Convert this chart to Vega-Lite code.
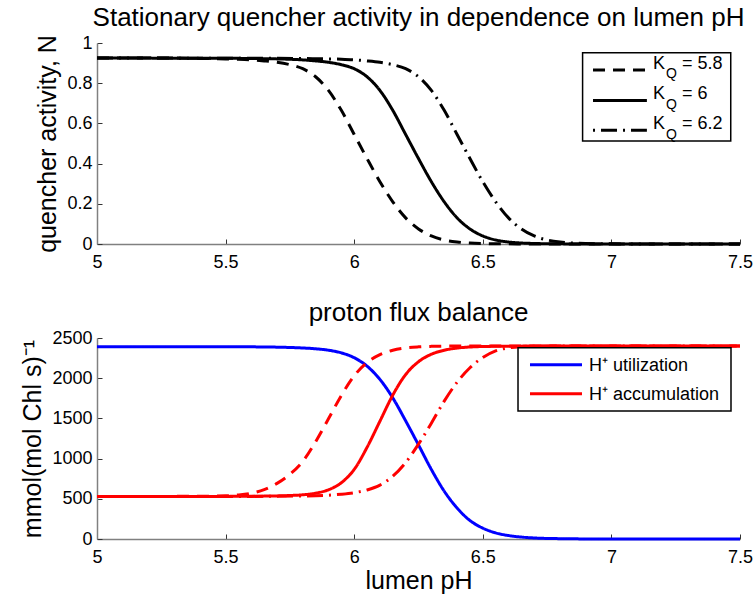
{
  "$schema": "https://vega.github.io/schema/vega-lite/v6.json",
  "background": "white",
  "padding": {"left": 20, "top": 5, "right": 5, "bottom": 5},
  "spacing": 29,
  "config": {
    "font": "Liberation Sans",
    "view": {"stroke": null},
    "axis": {
      "grid": false,
      "domainColor": "#808080",
      "domainWidth": 1.5,
      "tickColor": "#333333",
      "tickSize": -5,
      "labelPadding": 10,
      "labelFontSize": 18,
      "labelColor": "black",
      "labelFont": "Liberation Sans",
      "labelFlush": false,
      "labelOverlap": false,
      "titleFontSize": 25,
      "titleFontWeight": "normal",
      "titleColor": "black",
      "titleFont": "Liberation Sans",
      "titlePadding": 6
    },
    "axisX": {"labelPadding": 14, "titlePadding": 2},
    "title": {"fontSize": 26, "fontWeight": "normal", "font": "Liberation Sans", "color": "black", "frame": "group", "anchor": "middle", "offset": 3}
  },
  "vconcat": [
    {
      "width": 643,
      "height": 201,
      "title": "Stationary quencher activity in dependence on lumen pH",
      "layer": [
        {
          "data": {"values": [
            {"pH": 5.0, "N": 0.925, "KQ": "5.8"}, {"pH": 5.3, "N": 0.925, "KQ": "5.8"}, {"pH": 5.45, "N": 0.922, "KQ": "5.8"}, {"pH": 5.5, "N": 0.921, "KQ": "5.8"}, {"pH": 5.55, "N": 0.919, "KQ": "5.8"}, {"pH": 5.6, "N": 0.916, "KQ": "5.8"}, {"pH": 5.65, "N": 0.911, "KQ": "5.8"}, {"pH": 5.7, "N": 0.904, "KQ": "5.8"}, {"pH": 5.75, "N": 0.892, "KQ": "5.8"}, {"pH": 5.8, "N": 0.872, "KQ": "5.8"}, {"pH": 5.85, "N": 0.832, "KQ": "5.8"}, {"pH": 5.9, "N": 0.764, "KQ": "5.8"}, {"pH": 5.95, "N": 0.665, "KQ": "5.8"}, {"pH": 6.0, "N": 0.545, "KQ": "5.8"}, {"pH": 6.05, "N": 0.425, "KQ": "5.8"}, {"pH": 6.1, "N": 0.31, "KQ": "5.8"}, {"pH": 6.15, "N": 0.21, "KQ": "5.8"}, {"pH": 6.2, "N": 0.13, "KQ": "5.8"}, {"pH": 6.25, "N": 0.075, "KQ": "5.8"}, {"pH": 6.3, "N": 0.04, "KQ": "5.8"}, {"pH": 6.35, "N": 0.02, "KQ": "5.8"}, {"pH": 6.4, "N": 0.01, "KQ": "5.8"}, {"pH": 6.45, "N": 0.005, "KQ": "5.8"}, {"pH": 6.5, "N": 0.0025, "KQ": "5.8"}, {"pH": 6.6, "N": 0.0008, "KQ": "5.8"}, {"pH": 6.7, "N": 0, "KQ": "5.8"}, {"pH": 7.5, "N": 0, "KQ": "5.8"},
            {"pH": 5.0, "N": 0.925, "KQ": "6"}, {"pH": 5.5, "N": 0.924, "KQ": "6"}, {"pH": 5.65, "N": 0.922, "KQ": "6"}, {"pH": 5.7, "N": 0.921, "KQ": "6"}, {"pH": 5.75, "N": 0.919, "KQ": "6"}, {"pH": 5.8, "N": 0.916, "KQ": "6"}, {"pH": 5.85, "N": 0.911, "KQ": "6"}, {"pH": 5.9, "N": 0.904, "KQ": "6"}, {"pH": 5.95, "N": 0.892, "KQ": "6"}, {"pH": 6.0, "N": 0.872, "KQ": "6"}, {"pH": 6.05, "N": 0.832, "KQ": "6"}, {"pH": 6.1, "N": 0.764, "KQ": "6"}, {"pH": 6.15, "N": 0.665, "KQ": "6"}, {"pH": 6.2, "N": 0.545, "KQ": "6"}, {"pH": 6.25, "N": 0.425, "KQ": "6"}, {"pH": 6.3, "N": 0.31, "KQ": "6"}, {"pH": 6.35, "N": 0.21, "KQ": "6"}, {"pH": 6.4, "N": 0.13, "KQ": "6"}, {"pH": 6.45, "N": 0.075, "KQ": "6"}, {"pH": 6.5, "N": 0.04, "KQ": "6"}, {"pH": 6.55, "N": 0.02, "KQ": "6"}, {"pH": 6.6, "N": 0.01, "KQ": "6"}, {"pH": 6.65, "N": 0.005, "KQ": "6"}, {"pH": 6.7, "N": 0.0025, "KQ": "6"}, {"pH": 6.8, "N": 0.0008, "KQ": "6"}, {"pH": 6.9, "N": 0, "KQ": "6"}, {"pH": 7.5, "N": 0, "KQ": "6"},
            {"pH": 5.0, "N": 0.925, "KQ": "6.2"}, {"pH": 5.7, "N": 0.924, "KQ": "6.2"}, {"pH": 5.85, "N": 0.922, "KQ": "6.2"}, {"pH": 5.9, "N": 0.921, "KQ": "6.2"}, {"pH": 5.95, "N": 0.919, "KQ": "6.2"}, {"pH": 6.0, "N": 0.916, "KQ": "6.2"}, {"pH": 6.05, "N": 0.911, "KQ": "6.2"}, {"pH": 6.1, "N": 0.904, "KQ": "6.2"}, {"pH": 6.15, "N": 0.892, "KQ": "6.2"}, {"pH": 6.2, "N": 0.872, "KQ": "6.2"}, {"pH": 6.25, "N": 0.832, "KQ": "6.2"}, {"pH": 6.3, "N": 0.764, "KQ": "6.2"}, {"pH": 6.35, "N": 0.665, "KQ": "6.2"}, {"pH": 6.4, "N": 0.545, "KQ": "6.2"}, {"pH": 6.45, "N": 0.425, "KQ": "6.2"}, {"pH": 6.5, "N": 0.31, "KQ": "6.2"}, {"pH": 6.55, "N": 0.21, "KQ": "6.2"}, {"pH": 6.6, "N": 0.13, "KQ": "6.2"}, {"pH": 6.65, "N": 0.075, "KQ": "6.2"}, {"pH": 6.7, "N": 0.04, "KQ": "6.2"}, {"pH": 6.75, "N": 0.02, "KQ": "6.2"}, {"pH": 6.8, "N": 0.01, "KQ": "6.2"}, {"pH": 6.85, "N": 0.005, "KQ": "6.2"}, {"pH": 6.9, "N": 0.0025, "KQ": "6.2"}, {"pH": 7.0, "N": 0.0008, "KQ": "6.2"}, {"pH": 7.1, "N": 0, "KQ": "6.2"}, {"pH": 7.5, "N": 0, "KQ": "6.2"}
          ]},
          "mark": {"type": "line", "color": "black", "strokeWidth": 3, "interpolate": "monotone"},
          "encoding": {
            "x": {"field": "pH", "type": "quantitative", "scale": {"domain": [5, 7.5], "nice": false}, "axis": {"title": null, "values": [5, 5.5, 6, 6.5, 7, 7.5], "format": "~g"}},
            "y": {"field": "N", "type": "quantitative", "scale": {"domain": [0, 1], "nice": false}, "axis": {"title": "quencher activity, N", "values": [0, 0.2, 0.4, 0.6, 0.8, 1], "format": "~g"}},
            "strokeDash": {"field": "KQ", "type": "nominal", "scale": {"domain": ["5.8", "6", "6.2"], "range": [[12, 8], [1, 0], [16, 6, 2, 6]]}, "legend": null}
          }
        },
        {"data": {"values": [{}]}, "mark": {"type": "rect", "fill": "white", "stroke": "black", "strokeWidth": 1.5}, "encoding": {"x": {"datum": 6.888}, "x2": {"datum": 7.464}, "y": {"datum": 0.9517}, "y2": {"datum": 0.5124}}},
        {"data": {"values": [{}]}, "mark": {"type": "rule", "color": "black", "strokeWidth": 3, "strokeDash": [12, 8]}, "encoding": {"x": {"datum": 6.9285}, "x2": {"datum": 7.138}, "y": {"datum": 0.8657}}},
        {"data": {"values": [{}]}, "mark": {"type": "rule", "color": "black", "strokeWidth": 3}, "encoding": {"x": {"datum": 6.9285}, "x2": {"datum": 7.138}, "y": {"datum": 0.7139}}},
        {"data": {"values": [{}]}, "mark": {"type": "rule", "color": "black", "strokeWidth": 3, "strokeDash": [2, 6, 16, 6]}, "encoding": {"x": {"datum": 6.9285}, "x2": {"datum": 7.138}, "y": {"datum": 0.5657}}},
        {"data": {"values": [{}]}, "mark": {"type": "text", "text": "K", "fontSize": 18, "align": "left", "baseline": "middle", "color": "black"}, "encoding": {"x": {"datum": 7.1617}, "y": {"datum": 0.8955}}},
        {"data": {"values": [{}]}, "mark": {"type": "text", "text": "Q", "fontSize": 14, "align": "left", "baseline": "middle", "color": "black"}, "encoding": {"x": {"datum": 7.212}, "y": {"datum": 0.8433}}},
        {"data": {"values": [{}]}, "mark": {"type": "text", "text": "= 5.8", "fontSize": 18, "align": "left", "baseline": "middle", "color": "black"}, "encoding": {"x": {"datum": 7.2745}, "y": {"datum": 0.8955}}},
        {"data": {"values": [{}]}, "mark": {"type": "text", "text": "K", "fontSize": 18, "align": "left", "baseline": "middle", "color": "black"}, "encoding": {"x": {"datum": 7.1617}, "y": {"datum": 0.7438}}},
        {"data": {"values": [{}]}, "mark": {"type": "text", "text": "Q", "fontSize": 14, "align": "left", "baseline": "middle", "color": "black"}, "encoding": {"x": {"datum": 7.212}, "y": {"datum": 0.6915}}},
        {"data": {"values": [{}]}, "mark": {"type": "text", "text": "= 6", "fontSize": 18, "align": "left", "baseline": "middle", "color": "black"}, "encoding": {"x": {"datum": 7.2745}, "y": {"datum": 0.7438}}},
        {"data": {"values": [{}]}, "mark": {"type": "text", "text": "K", "fontSize": 18, "align": "left", "baseline": "middle", "color": "black"}, "encoding": {"x": {"datum": 7.1617}, "y": {"datum": 0.5955}}},
        {"data": {"values": [{}]}, "mark": {"type": "text", "text": "Q", "fontSize": 14, "align": "left", "baseline": "middle", "color": "black"}, "encoding": {"x": {"datum": 7.212}, "y": {"datum": 0.5433}}},
        {"data": {"values": [{}]}, "mark": {"type": "text", "text": "= 6.2", "fontSize": 18, "align": "left", "baseline": "middle", "color": "black"}, "encoding": {"x": {"datum": 7.2745}, "y": {"datum": 0.5955}}}
      ]
    },
    {
      "width": 643,
      "height": 201,
      "title": "proton flux balance",
      "layer": [
        {
          "data": {"values": [
            {"pH": 5.0, "F": 2392, "flux": "H⁺ utilization", "KQ": "6"}, {"pH": 5.5, "F": 2391, "flux": "H⁺ utilization", "KQ": "6"}, {"pH": 5.6, "F": 2390, "flux": "H⁺ utilization", "KQ": "6"}, {"pH": 5.7, "F": 2386, "flux": "H⁺ utilization", "KQ": "6"}, {"pH": 5.8, "F": 2376, "flux": "H⁺ utilization", "KQ": "6"}, {"pH": 5.85, "F": 2366, "flux": "H⁺ utilization", "KQ": "6"}, {"pH": 5.9, "F": 2348, "flux": "H⁺ utilization", "KQ": "6"}, {"pH": 5.95, "F": 2315, "flux": "H⁺ utilization", "KQ": "6"}, {"pH": 6.0, "F": 2255, "flux": "H⁺ utilization", "KQ": "6"}, {"pH": 6.05, "F": 2150, "flux": "H⁺ utilization", "KQ": "6"}, {"pH": 6.1, "F": 1985, "flux": "H⁺ utilization", "KQ": "6"}, {"pH": 6.15, "F": 1755, "flux": "H⁺ utilization", "KQ": "6"}, {"pH": 6.2, "F": 1470, "flux": "H⁺ utilization", "KQ": "6"}, {"pH": 6.25, "F": 1170, "flux": "H⁺ utilization", "KQ": "6"}, {"pH": 6.3, "F": 865, "flux": "H⁺ utilization", "KQ": "6"}, {"pH": 6.35, "F": 595, "flux": "H⁺ utilization", "KQ": "6"}, {"pH": 6.4, "F": 385, "flux": "H⁺ utilization", "KQ": "6"}, {"pH": 6.45, "F": 230, "flux": "H⁺ utilization", "KQ": "6"}, {"pH": 6.5, "F": 135, "flux": "H⁺ utilization", "KQ": "6"}, {"pH": 6.55, "F": 76, "flux": "H⁺ utilization", "KQ": "6"}, {"pH": 6.6, "F": 43, "flux": "H⁺ utilization", "KQ": "6"}, {"pH": 6.65, "F": 24, "flux": "H⁺ utilization", "KQ": "6"}, {"pH": 6.7, "F": 13, "flux": "H⁺ utilization", "KQ": "6"}, {"pH": 6.8, "F": 4, "flux": "H⁺ utilization", "KQ": "6"}, {"pH": 6.9, "F": 1, "flux": "H⁺ utilization", "KQ": "6"}, {"pH": 7.0, "F": 0, "flux": "H⁺ utilization", "KQ": "6"}, {"pH": 7.5, "F": 0, "flux": "H⁺ utilization", "KQ": "6"},
            {"pH": 5.0, "F": 528, "flux": "H⁺ accumulation", "KQ": "5.8"}, {"pH": 5.4, "F": 532, "flux": "H⁺ accumulation", "KQ": "5.8"}, {"pH": 5.5, "F": 537, "flux": "H⁺ accumulation", "KQ": "5.8"}, {"pH": 5.55, "F": 548, "flux": "H⁺ accumulation", "KQ": "5.8"}, {"pH": 5.6, "F": 570, "flux": "H⁺ accumulation", "KQ": "5.8"}, {"pH": 5.65, "F": 615, "flux": "H⁺ accumulation", "KQ": "5.8"}, {"pH": 5.7, "F": 692, "flux": "H⁺ accumulation", "KQ": "5.8"}, {"pH": 5.75, "F": 805, "flux": "H⁺ accumulation", "KQ": "5.8"}, {"pH": 5.8, "F": 965, "flux": "H⁺ accumulation", "KQ": "5.8"}, {"pH": 5.85, "F": 1210, "flux": "H⁺ accumulation", "KQ": "5.8"}, {"pH": 5.9, "F": 1495, "flux": "H⁺ accumulation", "KQ": "5.8"}, {"pH": 5.95, "F": 1785, "flux": "H⁺ accumulation", "KQ": "5.8"}, {"pH": 6.0, "F": 2030, "flux": "H⁺ accumulation", "KQ": "5.8"}, {"pH": 6.05, "F": 2195, "flux": "H⁺ accumulation", "KQ": "5.8"}, {"pH": 6.1, "F": 2292, "flux": "H⁺ accumulation", "KQ": "5.8"}, {"pH": 6.15, "F": 2348, "flux": "H⁺ accumulation", "KQ": "5.8"}, {"pH": 6.2, "F": 2377, "flux": "H⁺ accumulation", "KQ": "5.8"}, {"pH": 6.25, "F": 2390, "flux": "H⁺ accumulation", "KQ": "5.8"}, {"pH": 6.3, "F": 2396, "flux": "H⁺ accumulation", "KQ": "5.8"}, {"pH": 6.4, "F": 2400, "flux": "H⁺ accumulation", "KQ": "5.8"}, {"pH": 7.5, "F": 2400, "flux": "H⁺ accumulation", "KQ": "5.8"},
            {"pH": 5.0, "F": 528, "flux": "H⁺ accumulation", "KQ": "6"}, {"pH": 5.5, "F": 530, "flux": "H⁺ accumulation", "KQ": "6"}, {"pH": 5.6, "F": 532, "flux": "H⁺ accumulation", "KQ": "6"}, {"pH": 5.7, "F": 536, "flux": "H⁺ accumulation", "KQ": "6"}, {"pH": 5.75, "F": 541, "flux": "H⁺ accumulation", "KQ": "6"}, {"pH": 5.8, "F": 550, "flux": "H⁺ accumulation", "KQ": "6"}, {"pH": 5.85, "F": 570, "flux": "H⁺ accumulation", "KQ": "6"}, {"pH": 5.9, "F": 612, "flux": "H⁺ accumulation", "KQ": "6"}, {"pH": 5.95, "F": 700, "flux": "H⁺ accumulation", "KQ": "6"}, {"pH": 6.0, "F": 865, "flux": "H⁺ accumulation", "KQ": "6"}, {"pH": 6.05, "F": 1140, "flux": "H⁺ accumulation", "KQ": "6"}, {"pH": 6.1, "F": 1465, "flux": "H⁺ accumulation", "KQ": "6"}, {"pH": 6.15, "F": 1790, "flux": "H⁺ accumulation", "KQ": "6"}, {"pH": 6.2, "F": 2045, "flux": "H⁺ accumulation", "KQ": "6"}, {"pH": 6.25, "F": 2205, "flux": "H⁺ accumulation", "KQ": "6"}, {"pH": 6.3, "F": 2298, "flux": "H⁺ accumulation", "KQ": "6"}, {"pH": 6.35, "F": 2348, "flux": "H⁺ accumulation", "KQ": "6"}, {"pH": 6.4, "F": 2375, "flux": "H⁺ accumulation", "KQ": "6"}, {"pH": 6.45, "F": 2388, "flux": "H⁺ accumulation", "KQ": "6"}, {"pH": 6.5, "F": 2394, "flux": "H⁺ accumulation", "KQ": "6"}, {"pH": 6.6, "F": 2398, "flux": "H⁺ accumulation", "KQ": "6"}, {"pH": 6.8, "F": 2400, "flux": "H⁺ accumulation", "KQ": "6"}, {"pH": 7.5, "F": 2400, "flux": "H⁺ accumulation", "KQ": "6"},
            {"pH": 5.0, "F": 528, "flux": "H⁺ accumulation", "KQ": "6.2"}, {"pH": 5.6, "F": 530, "flux": "H⁺ accumulation", "KQ": "6.2"}, {"pH": 5.8, "F": 535, "flux": "H⁺ accumulation", "KQ": "6.2"}, {"pH": 5.9, "F": 545, "flux": "H⁺ accumulation", "KQ": "6.2"}, {"pH": 5.95, "F": 557, "flux": "H⁺ accumulation", "KQ": "6.2"}, {"pH": 6.0, "F": 576, "flux": "H⁺ accumulation", "KQ": "6.2"}, {"pH": 6.05, "F": 610, "flux": "H⁺ accumulation", "KQ": "6.2"}, {"pH": 6.1, "F": 670, "flux": "H⁺ accumulation", "KQ": "6.2"}, {"pH": 6.15, "F": 780, "flux": "H⁺ accumulation", "KQ": "6.2"}, {"pH": 6.2, "F": 950, "flux": "H⁺ accumulation", "KQ": "6.2"}, {"pH": 6.25, "F": 1180, "flux": "H⁺ accumulation", "KQ": "6.2"}, {"pH": 6.3, "F": 1440, "flux": "H⁺ accumulation", "KQ": "6.2"}, {"pH": 6.35, "F": 1715, "flux": "H⁺ accumulation", "KQ": "6.2"}, {"pH": 6.4, "F": 1950, "flux": "H⁺ accumulation", "KQ": "6.2"}, {"pH": 6.45, "F": 2130, "flux": "H⁺ accumulation", "KQ": "6.2"}, {"pH": 6.5, "F": 2258, "flux": "H⁺ accumulation", "KQ": "6.2"}, {"pH": 6.55, "F": 2340, "flux": "H⁺ accumulation", "KQ": "6.2"}, {"pH": 6.6, "F": 2378, "flux": "H⁺ accumulation", "KQ": "6.2"}, {"pH": 6.65, "F": 2393, "flux": "H⁺ accumulation", "KQ": "6.2"}, {"pH": 6.7, "F": 2398, "flux": "H⁺ accumulation", "KQ": "6.2"}, {"pH": 6.8, "F": 2400, "flux": "H⁺ accumulation", "KQ": "6.2"}, {"pH": 7.5, "F": 2400, "flux": "H⁺ accumulation", "KQ": "6.2"}
          ]},
          "mark": {"type": "line", "strokeWidth": 3, "interpolate": "monotone"},
          "encoding": {
            "x": {"field": "pH", "type": "quantitative", "scale": {"domain": [5, 7.5], "nice": false}, "axis": {"title": "lumen pH", "values": [5, 5.5, 6, 6.5, 7, 7.5], "format": "~g"}},
            "y": {"field": "F", "type": "quantitative", "scale": {"domain": [0, 2500], "nice": false}, "axis": {"title": "mmol(mol Chl s)⁻¹", "values": [0, 500, 1000, 1500, 2000, 2500], "format": "d"}},
            "color": {"field": "flux", "type": "nominal", "scale": {"domain": ["H⁺ utilization", "H⁺ accumulation"], "range": ["#0000ff", "#ff0000"]}, "legend": null},
            "strokeDash": {"field": "KQ", "type": "nominal", "scale": {"domain": ["5.8", "6", "6.2"], "range": [[12, 8], [1, 0], [16, 6, 2, 6]]}, "legend": null}
          }
        },
        {"data": {"values": [{}]}, "mark": {"type": "rect", "fill": "white", "stroke": "black", "strokeWidth": 1.5}, "encoding": {"x": {"datum": 6.6369}, "x2": {"datum": 7.465}, "y": {"datum": 2379}, "y2": {"datum": 1592}}},
        {"data": {"values": [{}]}, "mark": {"type": "rule", "color": "#0000ff", "strokeWidth": 3}, "encoding": {"x": {"datum": 6.6835}, "x2": {"datum": 6.8857}, "y": {"datum": 2168}}},
        {"data": {"values": [{}]}, "mark": {"type": "rule", "color": "#ff0000", "strokeWidth": 3}, "encoding": {"x": {"datum": 6.6835}, "x2": {"datum": 6.8857}, "y": {"datum": 1808}}},
        {"data": {"values": [{}]}, "mark": {"type": "text", "text": "H⁺ utilization", "fontSize": 18, "align": "left", "baseline": "middle", "color": "black"}, "encoding": {"x": {"datum": 6.913}, "y": {"datum": 2155}}},
        {"data": {"values": [{}]}, "mark": {"type": "text", "text": "H⁺ accumulation", "fontSize": 18, "align": "left", "baseline": "middle", "color": "black"}, "encoding": {"x": {"datum": 6.913}, "y": {"datum": 1795}}}
      ]
    }
  ]
}
